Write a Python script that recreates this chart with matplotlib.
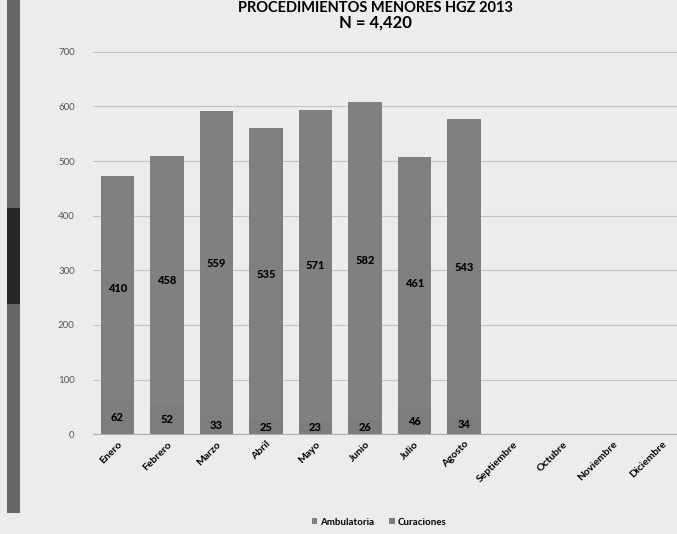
import matplotlib.pyplot as plt
from matplotlib.patches import Rectangle

# monthly counts (Enero..Diciembre), empty months have no data yet
meses = ['Enero', 'Febrero', 'Marzo', 'Abril', 'Mayo', 'Junio', 'Julio',
         'Agosto', 'Septiembre', 'Octubre', 'Noviembre', 'Diciembre']
ambulatoria = [410, 458, 559, 535, 571, 582, 461, 543]
curaciones = [62, 52, 33, 25, 23, 26, 46, 34]
total_n = sum(ambulatoria) + sum(curaciones)

plt.rcParams['font.family'] = ['Lato', 'DejaVu Sans']

fig = plt.figure(figsize=(6.77, 5.34), dpi=100, facecolor='#ececea')
ax = fig.add_axes([0.137, 0.187, 0.863, 0.716])
ax.set_facecolor('#ececea')

# scan binding shadow on the left edge
fig.patches.append(Rectangle((0.011, 0.04), 0.018, 0.96, transform=fig.transFigure,
                             facecolor='#666666', edgecolor='none', zorder=0))
fig.patches.append(Rectangle((0.011, 0.43), 0.018, 0.18, transform=fig.transFigure,
                             facecolor='#262626', edgecolor='none', zorder=0))

x = list(range(len(ambulatoria)))
b1 = ax.bar(x, curaciones, width=0.68, color='#7d7d7d', zorder=3)
b2 = ax.bar(x, ambulatoria, bottom=curaciones, width=0.68, color='#808080', zorder=3)

for rect, v in zip(b1, curaciones):
    ax.text(rect.get_x() + rect.get_width() / 2, rect.get_y() + rect.get_height() / 2,
            str(v), ha='center', va='center', fontsize=8, fontweight='black', zorder=4)
for rect, v in zip(b2, ambulatoria):
    ax.text(rect.get_x() + rect.get_width() / 2, rect.get_y() + rect.get_height() / 2,
            str(v), ha='center', va='center', fontsize=8, fontweight='black', zorder=4)

ax.set_xlim(-0.5, 11.3)
ax.set_ylim(0, 700)
ax.set_yticks(range(0, 701, 100))
ax.yaxis.grid(True, color='#c4c4c4', linewidth=0.8, zorder=0)
ax.tick_params(axis='y', length=0, labelsize=7, labelcolor='#555555', pad=13)
ax.set_xticks(range(len(meses)))
ax.set_xticklabels(meses, rotation=45, ha='right', rotation_mode='anchor',
                   fontsize=7.5, fontweight='bold')
ax.tick_params(axis='x', length=0, pad=4)
for s in ['top', 'right', 'left']:
    ax.spines[s].set_visible(False)
ax.spines['bottom'].set_color('#b0b0b0')

fig.text(0.555, 0.999, 'PROCEDIMIENTOS MENORES HGZ 2013', ha='center', va='top',
         fontsize=10.5, fontweight='bold')
fig.text(0.555, 0.957, f'N = {total_n:,}', ha='center', va='center',
         fontsize=12, fontweight='bold')

ax.legend([b2, b1], ['Ambulatoria', 'Curaciones'], loc='center',
          bbox_to_anchor=(0.56, 0.022), bbox_transform=fig.transFigure,
          ncol=2, frameon=False, handlelength=0.6, handleheight=0.6,
          columnspacing=1.5, handletextpad=0.3,
          prop={'weight': 'bold', 'size': 7})

fig.savefig('out.png', dpi=100, facecolor=fig.get_facecolor())
